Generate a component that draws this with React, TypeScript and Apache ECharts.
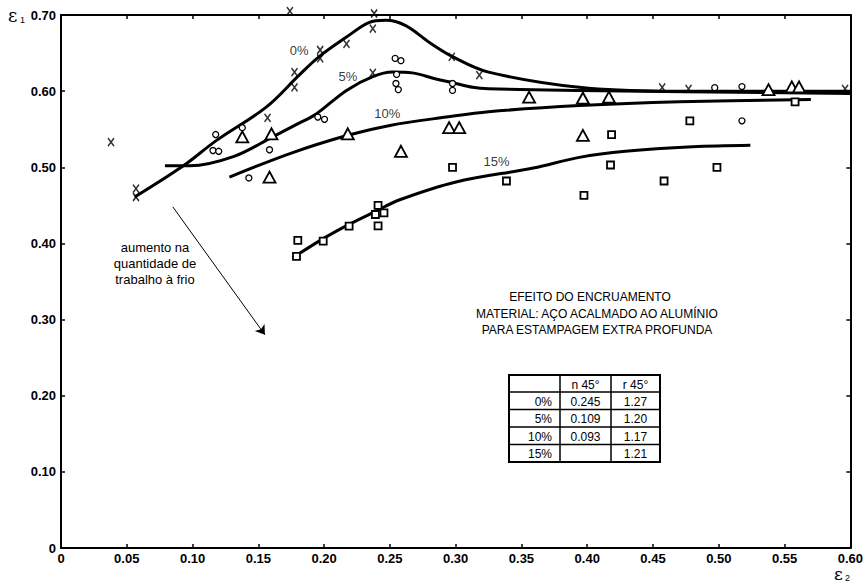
import { useEffect, useRef } from 'react';
import * as echarts from 'echarts';

// ---- data (ε2, ε1) ----
const crosses0: number[][] = [
  [0.038, 0.533], [0.057, 0.472], [0.057, 0.461], [0.174, 0.705], [0.1775, 0.625],
  [0.1775, 0.605], [0.157, 0.565], [0.197, 0.654], [0.197, 0.643], [0.217, 0.662],
  [0.238, 0.702], [0.237, 0.682], [0.237, 0.624], [0.297, 0.645], [0.318, 0.621],
  [0.457, 0.605], [0.477, 0.603], [0.596, 0.603],
];
const circles5: number[][] = [
  [0.1176, 0.543], [0.1155, 0.522], [0.1199, 0.521], [0.1378, 0.552], [0.1585, 0.523],
  [0.1428, 0.486], [0.254, 0.643], [0.2584, 0.64], [0.2551, 0.622], [0.2546, 0.61],
  [0.2564, 0.602], [0.1952, 0.566], [0.2003, 0.563], [0.2976, 0.61], [0.2976, 0.601],
  [0.4969, 0.6046], [0.5176, 0.606], [0.5176, 0.561],
];
const triangles10: number[][] = [
  [0.1378, 0.54], [0.16, 0.544], [0.1585, 0.487], [0.218, 0.544], [0.2584, 0.521],
  [0.295, 0.552], [0.3027, 0.552], [0.3558, 0.592], [0.3967, 0.591], [0.4165, 0.592],
  [0.3967, 0.542], [0.5378, 0.602], [0.5555, 0.6055], [0.561, 0.6055],
];
const squares15: number[][] = [
  [0.2976, 0.5], [0.3386, 0.482], [0.4185, 0.543], [0.4177, 0.503], [0.3975, 0.463],
  [0.4584, 0.482], [0.4986, 0.5], [0.478, 0.561], [0.558, 0.586], [0.241, 0.45],
  [0.239, 0.438], [0.2455, 0.44], [0.241, 0.423], [0.219, 0.4226], [0.1993, 0.403],
  [0.18, 0.404], [0.179, 0.383],
];

const curve0: number[][] = [
  [0.056, 0.461], [0.093, 0.502], [0.118, 0.535], [0.156, 0.579], [0.181, 0.621],
  [0.196, 0.645], [0.217, 0.671], [0.234, 0.69], [0.247, 0.693], [0.262, 0.686],
  [0.28, 0.664], [0.298, 0.645], [0.325, 0.625], [0.394, 0.605], [0.46, 0.6], [0.6, 0.6],
];
const curve5: number[][] = [
  [0.079, 0.502], [0.098, 0.502], [0.131, 0.514], [0.161, 0.54], [0.181, 0.558],
  [0.194, 0.57], [0.217, 0.601], [0.237, 0.619], [0.252, 0.625], [0.267, 0.624],
  [0.285, 0.616], [0.298, 0.611], [0.313, 0.605], [0.325, 0.603], [0.394, 0.601], [0.6, 0.597],
];
const curve10: number[][] = [
  [0.128, 0.487], [0.174, 0.518], [0.218, 0.542], [0.25, 0.555], [0.293, 0.566],
  [0.325, 0.573], [0.394, 0.581], [0.47, 0.586], [0.57, 0.589],
];
const curve15: number[][] = [
  [0.176, 0.381], [0.199, 0.406], [0.219, 0.425], [0.239, 0.442], [0.257, 0.457],
  [0.301, 0.481], [0.359, 0.499], [0.394, 0.513], [0.429, 0.521], [0.48, 0.527], [0.524, 0.529],
];

const curveLabels = [
  { name: '0%', value: [0.181, 0.654] },
  { name: '5%', value: [0.218, 0.619] },
  { name: '10%', value: [0.248, 0.571] },
  { name: '15%', value: [0.331, 0.507] },
];
const arrowFrom = [0.085, 0.448];
const arrowTo = [0.155, 0.28];

const noteLines = ['aumento na', 'quantidade de', 'trabalho à frio'];
const titleLines = [
  'EFEITO DO ENCRUAMENTO',
  'MATERIAL: AÇO ACALMADO AO ALUMÍNIO',
  'PARA ESTAMPAGEM EXTRA PROFUNDA',
];
const tableHeader = ['', 'n 45°', 'r 45°'];
const tableRows = [
  ['0%', '0.245', '1.27'],
  ['5%', '0.109', '1.20'],
  ['10%', '0.093', '1.17'],
  ['15%', '', '1.21'],
];

const FONT = '"Liberation Sans", Arial, sans-serif';
const NARROW = '"Liberation Sans Narrow", "Liberation Sans", Arial, sans-serif';

function fmt(v: number) {
  return v === 0 ? '0' : v.toFixed(2);
}

function buildTable() {
  const colX = [509, 560, 611, 660];
  const rowY = [375, 392, 409.5, 427, 444.5, 462];
  const children: any[] = [];
  children.push({
    type: 'rect',
    shape: { x: colX[0], y: rowY[0], width: colX[3] - colX[0], height: rowY[5] - rowY[0] },
    style: { fill: '#fff', stroke: '#000', lineWidth: 2 },
  });
  for (let i = 1; i < 3; i++) {
    children.push({
      type: 'line',
      shape: { x1: colX[i], y1: rowY[0], x2: colX[i], y2: rowY[5] },
      style: { stroke: '#000', lineWidth: 1.5 },
    });
  }
  for (let j = 1; j < 5; j++) {
    children.push({
      type: 'line',
      shape: { x1: colX[0], y1: rowY[j], x2: colX[3], y2: rowY[j] },
      style: { stroke: '#000', lineWidth: 1.5 },
    });
  }
  const rows = [tableHeader, ...tableRows];
  rows.forEach((r, j) => {
    const cy = (rowY[j] + rowY[j + 1]) / 2 + 1;
    r.forEach((t, i) => {
      if (!t) return;
      const isFirst = i === 0;
      children.push({
        type: 'text',
        x: isFirst ? colX[1] - 8 : (colX[i] + colX[i + 1]) / 2,
        y: cy,
        style: {
          text: t,
          fill: '#000',
          font: `12px ${FONT}`,
          textAlign: isFirst ? 'right' : 'center',
          textVerticalAlign: 'middle',
        },
      });
    });
  });
  return { type: 'group', children };
}

export default function App() {
  const ref = useRef<HTMLDivElement>(null);
  useEffect(() => {
    const chart = echarts.init(ref.current!, null, { renderer: 'svg' });
    const axisLine = { show: true, onZero: false, lineStyle: { color: '#000', width: 2 } };
    const axisTick = { show: true, inside: true, length: 4, lineStyle: { color: '#000', width: 1.5 } };
    const lineSeries = (data: number[][]) => ({
      type: 'line',
      data,
      smooth: 0.35,
      symbol: 'none',
      lineStyle: { color: '#000', width: 3 },
      z: 2,
    });
    const option: any = {
      animation: false,
      backgroundColor: '#fff',
      grid: { left: 61, right: 14, top: 15, bottom: 36 },
      xAxis: [
        {
          type: 'value', min: 0, max: 0.6, interval: 0.05, position: 'bottom',
          axisLine, axisTick, splitLine: { show: false },
          axisLabel: { formatter: fmt, color: '#000', fontWeight: 'bold', fontSize: 13, fontFamily: NARROW, margin: 4 },
        },
        {
          type: 'value', min: 0, max: 0.6, interval: 0.05, position: 'top',
          axisLine, axisTick, splitLine: { show: false }, axisLabel: { show: false },
        },
      ],
      yAxis: [
        {
          type: 'value', min: 0, max: 0.7, interval: 0.1, position: 'left',
          axisLine, axisTick, splitLine: { show: false },
          axisLabel: { formatter: fmt, color: '#000', fontWeight: 'bold', fontSize: 13, fontFamily: NARROW, margin: 5 },
        },
        {
          type: 'value', min: 0, max: 0.7, interval: 0.1, position: 'right',
          axisLine, axisTick, splitLine: { show: false }, axisLabel: { show: false },
        },
      ],
      series: [
        lineSeries(curve0),
        lineSeries(curve5),
        lineSeries(curve10),
        lineSeries(curve15),
        {
          type: 'scatter', data: crosses0, clip: false, z: 3,
          symbol: 'path://M0 0L8 10M8 0L0 10', symbolSize: [6, 8],
          itemStyle: { color: 'transparent', borderColor: '#000', borderWidth: 1.6 },
        },
        {
          type: 'scatter', data: circles5, z: 3, symbol: 'circle', symbolSize: 6,
          itemStyle: { color: '#fff', borderColor: '#000', borderWidth: 1.3, opacity: 1 },
        },
        {
          type: 'scatter', data: triangles10, z: 3, symbol: 'triangle', symbolSize: [12, 11],
          itemStyle: { color: '#fff', borderColor: '#000', borderWidth: 1.8, opacity: 1 },
        },
        {
          type: 'scatter', data: squares15, z: 3, symbol: 'rect', symbolSize: 7,
          itemStyle: { color: '#fff', borderColor: '#000', borderWidth: 1.8, opacity: 1 },
        },
        {
          type: 'scatter', data: curveLabels, z: 4, symbolSize: 1,
          itemStyle: { color: 'transparent' },
          label: {
            show: true, position: 'inside', formatter: '{b}', color: '#000',
            fontSize: 13, fontFamily: FONT,
          },
          markLine: {
            silent: true,
            symbol: ['none', 'arrow'],
            symbolSize: 9,
            label: { show: false },
            lineStyle: { color: '#000', width: 1, type: 'solid' },
            data: [[{ coord: arrowFrom }, { coord: arrowTo }]],
          },
        },
      ],
      graphic: [
        {
          type: 'text', x: 8, y: 15,
          style: { text: 'ε', fill: '#000', font: '18px "DejaVu Serif", serif', textVerticalAlign: 'middle' },
        },
        {
          type: 'text', x: 20, y: 20,
          style: { text: '1', fill: '#000', font: `9px ${FONT}`, textVerticalAlign: 'middle' },
        },
        {
          type: 'text', x: 834, y: 574,
          style: { text: 'ε', fill: '#000', font: '17px "DejaVu Serif", serif', textVerticalAlign: 'middle' },
        },
        {
          type: 'text', x: 845, y: 578,
          style: { text: '2', fill: '#000', font: `9px ${FONT}`, textVerticalAlign: 'middle' },
        },
        ...noteLines.map((t, i) => ({
          type: 'text', x: 155, y: 247 + i * 16,
          style: { text: t, fill: '#000', font: `13px ${FONT}`, textAlign: 'center', textVerticalAlign: 'middle' },
        })),
        ...titleLines.map((t, i) => ({
          type: 'text', x: i === 0 ? 590 : 597, y: 297 + i * 16.5,
          style: { text: t, fill: '#000', font: `12px ${FONT}`, textAlign: 'center', textVerticalAlign: 'middle' },
        })),
        buildTable(),
      ],
    };
    chart.setOption(option);
    return () => chart.dispose();
  }, []);
  return (
    <div
      ref={ref}
      style={{ position: 'fixed', left: 0, top: 0, width: 866, height: 584, background: '#fff' }}
    />
  );
}
